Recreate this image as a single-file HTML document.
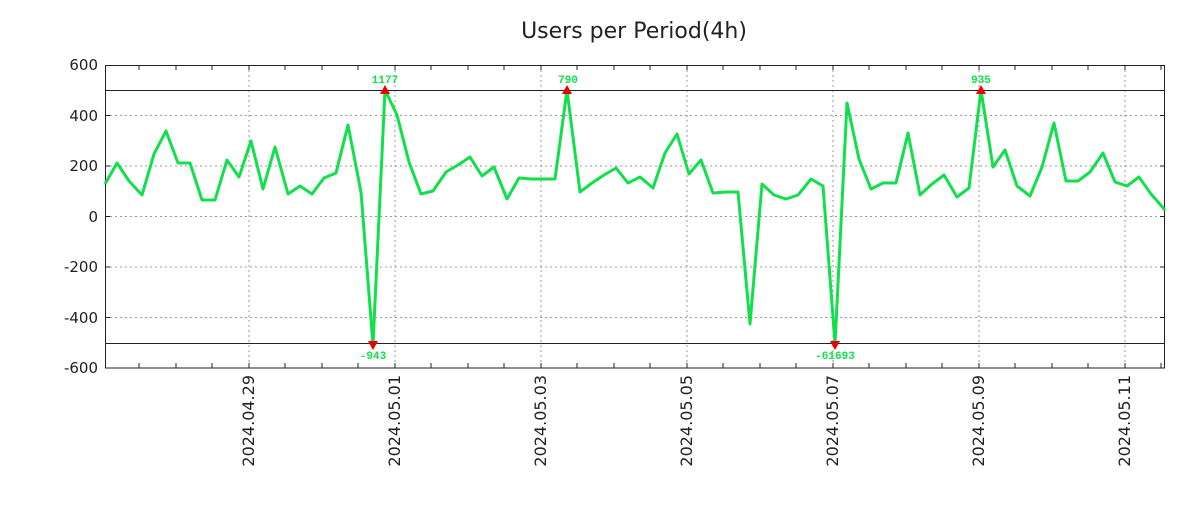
<!DOCTYPE html>
<html><head><meta charset="utf-8"><style>body{margin:0;background:#fff}</style></head><body>
<svg width="1200" height="500" xmlns="http://www.w3.org/2000/svg" font-family="DejaVu Sans, Liberation Sans, sans-serif">
<rect width="1200" height="500" fill="#fff"/>
<text x="634" y="38" font-size="22" text-anchor="middle" fill="#222">Users per Period(4h)</text>
<g stroke="#999" stroke-dasharray="2,3" stroke-width="1">
<line x1="105" x2="1165" y1="115.5" y2="115.5"/><line x1="105" x2="1165" y1="166" y2="166"/><line x1="105" x2="1165" y1="216.5" y2="216.5"/><line x1="105" x2="1165" y1="267" y2="267"/><line x1="105" x2="1165" y1="317.5" y2="317.5"/>
<line x1="249" x2="249" y1="65" y2="368"/><line x1="395" x2="395" y1="65" y2="368"/><line x1="541" x2="541" y1="65" y2="368"/><line x1="687" x2="687" y1="65" y2="368"/><line x1="833" x2="833" y1="65" y2="368"/><line x1="979" x2="979" y1="65" y2="368"/><line x1="1125" x2="1125" y1="65" y2="368"/>
</g>
<g stroke="#222" stroke-width="1">
<line x1="105" x2="1165" y1="90.5" y2="90.5"/><line x1="105" x2="1165" y1="343.5" y2="343.5"/>
<path d="M139,65v5M176,65v5M212,65v5M249,65v5M285,65v5M322,65v5M358,65v5M395,65v5M431,65v5M468,65v5M504,65v5M541,65v5M577,65v5M614,65v5M650,65v5M687,65v5M723,65v5M760,65v5M796,65v5M833,65v5M869,65v5M906,65v5M942,65v5M979,65v5M1015,65v5M1052,65v5M1088,65v5M1125,65v5M1161,65v5"/>
<path d="M139,368v-5M176,368v-5M212,368v-5M249,368v-5M285,368v-5M322,368v-5M358,368v-5M395,368v-5M431,368v-5M468,368v-5M504,368v-5M541,368v-5M577,368v-5M614,368v-5M650,368v-5M687,368v-5M723,368v-5M760,368v-5M796,368v-5M833,368v-5M869,368v-5M906,368v-5M942,368v-5M979,368v-5M1015,368v-5M1052,368v-5M1088,368v-5M1125,368v-5M1161,368v-5"/>
<path d="M105,115.5h5M105,166h5M105,216.5h5M105,267h5M105,317.5h5M1165,115.5h-5M1165,166h-5M1165,216.5h-5M1165,267h-5M1165,317.5h-5"/>
</g>
<rect x="105.5" y="65.5" width="1059" height="302.5" fill="none" stroke="#222" stroke-width="1"/>
<g font-size="15" fill="#222" text-anchor="end">
<text x="98" y="70">600</text><text x="98" y="121">400</text><text x="98" y="171">200</text><text x="98" y="222">0</text><text x="98" y="272">-200</text><text x="98" y="323">-400</text><text x="98" y="373">-600</text>
</g>
<g font-size="16" fill="#222" text-anchor="end">
<text transform="translate(254,375) rotate(-90)">2024.04.29</text>
<text transform="translate(400,375) rotate(-90)">2024.05.01</text>
<text transform="translate(546,375) rotate(-90)">2024.05.03</text>
<text transform="translate(692,375) rotate(-90)">2024.05.05</text>
<text transform="translate(838,375) rotate(-90)">2024.05.07</text>
<text transform="translate(984,375) rotate(-90)">2024.05.09</text>
<text transform="translate(1130,375) rotate(-90)">2024.05.11</text>
</g>
<polyline fill="none" stroke="#11e04c" stroke-width="3" stroke-linejoin="round" points="105,184 117,163 129,181 142,195 154,154 166,131 178,163 190,163 202,200 215,200 227,160 239,177 251,141 263,189 275,147 288,194 300,186 312,194 324,178 336,173 348,125 361,192 373,345 385,90 397,115 409,162 421,194 433,191 446,172 458,165 470,157 482,176 494,167 507,199 519,178 531,179 543,179 555,179 567,90 580,192 592,183 604,175 616,168 628,183 640,177 653,188 665,153 677,134 689,174 701,160 713,193 726,192 738,192 750,324 762,184 774,195 786,199 798,195 811,179 823,186 835,344 847,103 859,159 871,189 883,183 896,183 908,133 920,195 932,184 944,175 957,197 969,188 981,90 993,167 1005,150 1017,186 1030,196 1042,167 1054,123 1066,181 1078,181 1090,172 1103,153 1115,182 1127,186 1139,177 1151,194 1165,210"/>
<g fill="#e00">
<polygon points="380,94 390,94 385,85"/><polygon points="562,94 572,94 567,85"/><polygon points="976,94 986,94 981,85"/>
<polygon points="368,341 378,341 373,350"/><polygon points="830,341 840,341 835,350"/>
</g>
<g font-size="11" font-weight="bold" fill="#11e04c" text-anchor="middle" font-family="Liberation Mono, monospace">
<text x="385" y="83">1177</text><text x="568" y="83">790</text><text x="981" y="83">935</text>
<text x="373" y="359">-943</text><text x="835" y="359">-61693</text>
</g>
</svg>
</body></html>
